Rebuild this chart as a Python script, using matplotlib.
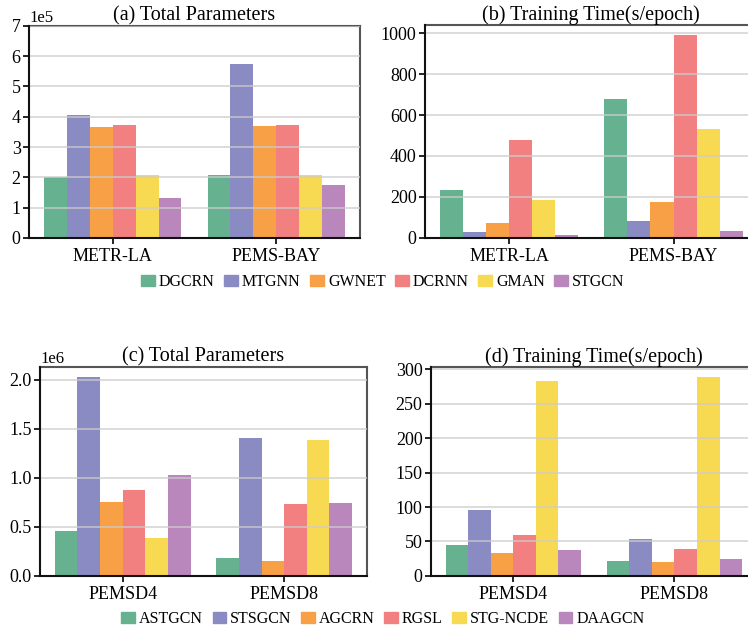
import matplotlib.pyplot as plt
import numpy as np
from matplotlib.patches import Patch

plt.rcParams['font.family'] = ['Liberation Serif', 'DejaVu Serif']

colors = ['#66b18f', '#8a8bc2', '#f8a046', '#f38080', '#f8da52', '#b987bb']

# top row
datasets_top = ['METR-LA', 'PEMS-BAY']
models_top = ['DGCRN', 'MTGNN', 'GWNET', 'DCRNN', 'GMAN', 'STGCN']
params_top = [[2.00e5, 2.08e5],
              [4.05e5, 5.74e5],
              [3.66e5, 3.69e5],
              [3.73e5, 3.73e5],
              [2.08e5, 2.08e5],
              [1.32e5, 1.75e5]]
time_top = [[235, 680],
            [29, 83],
            [73, 176],
            [480, 989],
            [186, 533],
            [15, 34]]

# bottom row
datasets_bot = ['PEMSD4', 'PEMSD8']
models_bot = ['ASTGCN', 'STSGCN', 'AGCRN', 'RGSL', 'STG-NCDE', 'DAAGCN']
params_bot = [[0.454e6, 0.180e6],
              [2.027e6, 1.410e6],
              [0.749e6, 0.149e6],
              [0.881e6, 0.729e6],
              [0.383e6, 1.390e6],
              [1.034e6, 0.739e6]]
time_bot = [[44.3, 21.2],
            [96.3, 53.0],
            [32.7, 19.7],
            [58.7, 38.5],
            [282.6, 288.4],
            [37.1, 24.1]]

fig = plt.figure(figsize=(7.48, 6.31), dpi=100)
ax_a = fig.add_axes([0.0388, 0.623, 0.4425, 0.336])
ax_b = fig.add_axes([0.568, 0.623, 0.445, 0.337])
ax_c = fig.add_axes([0.0535, 0.0872, 0.437, 0.331])
ax_d = fig.add_axes([0.576, 0.0872, 0.436, 0.331])

width = 0.14


def draw(ax, cats, series, title, step, sci=False):
    x = np.arange(len(cats))
    for i, vals in enumerate(series):
        ax.bar(x + (i - 2.5) * width, vals, width, color=colors[i], zorder=1)
    ax.set_xticks(x)
    ax.set_xticklabels(cats, fontsize=13)
    ax.yaxis.set_major_locator(plt.MultipleLocator(step))
    ax.tick_params(axis='y', labelsize=13, length=4, width=1.2, pad=2)
    ax.tick_params(axis='x', length=4, width=1.2)
    ax.set_title(title, fontsize=14.5, pad=4)
    ax.yaxis.grid(True, color='#cccccc', lw=1.3, alpha=0.75, zorder=3)
    ax.set_axisbelow(False)
    for s in ['left', 'bottom']:
        ax.spines[s].set_color('#111111')
        ax.spines[s].set_linewidth(1.5)
        ax.spines[s].set_zorder(4)
    for s in ['top', 'right']:
        ax.spines[s].set_color('#555555')
        ax.spines[s].set_linewidth(1.5)
    if sci:
        ax.ticklabel_format(axis='y', style='sci', scilimits=(0, 0))
        ax.yaxis.get_offset_text().set_fontsize(12)


draw(ax_a, datasets_top, params_top, '(a) Total Parameters', 1e5, sci=True)
ax_a.set_ylim(0, 7e5)
draw(ax_b, datasets_top, time_top, '(b) Training Time(s/epoch)', 200)
draw(ax_c, datasets_bot, params_bot, '(c) Total Parameters', 0.5e6, sci=True)
draw(ax_d, datasets_bot, time_bot, '(d) Training Time(s/epoch)', 50)

for models, y in [(models_top, 0.553), (models_bot, 0.019)]:
    handles = [Patch(color=colors[i], label=m) for i, m in enumerate(models)]
    fig.legend(handles=handles, loc='center', bbox_to_anchor=(0.512, y), ncol=6,
               frameon=False, fontsize=11.5, handlelength=0.85, handleheight=0.75,
               handletextpad=0.25, columnspacing=0.6)

fig.savefig('out.png', dpi=100)
